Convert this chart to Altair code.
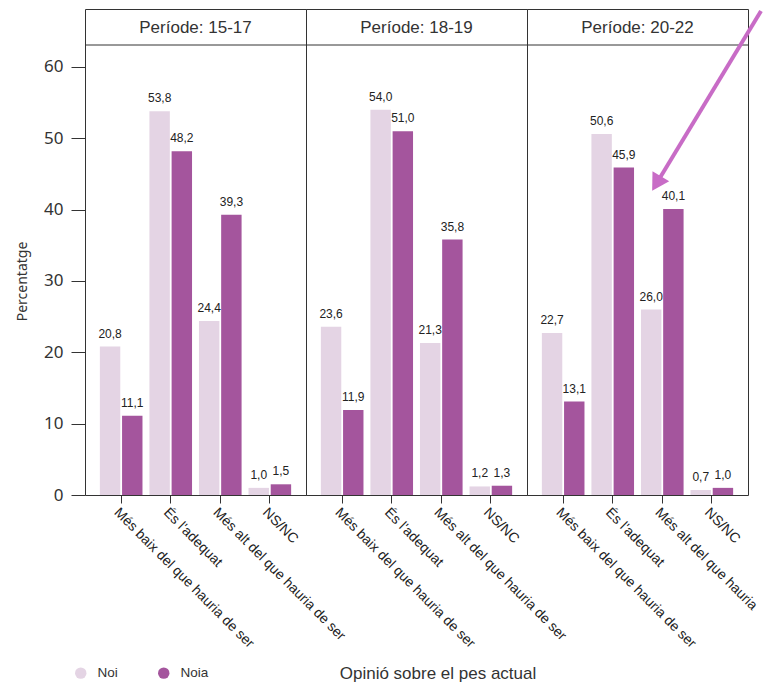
import altair as alt
import pandas as pd

periodes = ["15-17", "18-19", "20-22"]
opinions = ["Més baix del que hauria de ser", "És l'adequat",
            "Més alt del que hauria de ser", "NS/NC"]
sexes = ["Noi", "Noia"]
noi = {"15-17": [20.8, 53.8, 24.4, 1.0],
       "18-19": [23.6, 54.0, 21.3, 1.2],
       "20-22": [22.7, 50.6, 26.0, 0.7]}
noia = {"15-17": [11.1, 48.2, 39.3, 1.5],
        "18-19": [11.9, 51.0, 35.8, 1.3],
        "20-22": [13.1, 45.9, 40.1, 1.0]}
colors = ["#e4d4e4", "#a4559d"]
y_ticks = [0, 10, 20, 30, 40, 50, 60]
x_title = "Opinió sobre el pes actual"
y_title = "Percentatge"

rows = []
for p in periodes:
    for i, o in enumerate(opinions):
        for s, vals in (("Noi", noi), ("Noia", noia)):
            v = vals[p][i]
            rows.append(dict(periode=p, header="Període: " + p, opinio=o, sexe=s,
                             valor=v, etiqueta=f"{v:.1f}".replace(".", ",")))
df = pd.DataFrame(rows)

W, H = 221, 486
FONT = "Liberation Sans"
ARROW = "#c86cc6"


def panel(idx, p):
    last = idx == len(periodes) - 1
    label_expr = "datum.label"
    if last:
        # the browser window cuts this label in the original picture
        label_expr = ("datum.label === 'Més alt del que hauria de ser' ? "
                      "'Més alt del que hauria' : datum.label")
    xaxis = alt.Axis(title=x_title if idx == 1 else None,
                     labelAngle=45, labelAlign="left", labelBaseline="top",
                     labelFontSize=14, labelColor="#222", labelFont=FONT,
                     labelExpr=label_expr,
                     tickSize=8, tickColor="#333", labelPadding=2, domain=False,
                     labelLimit=400, titleFont=FONT, titleFontSize=17,
                     titleFontWeight="normal", titleColor="#333",
                     titleX=W / 2 + 21, titleY=178, titleBaseline="middle")
    x = alt.X("opinio:N", sort=opinions,
              scale=alt.Scale(paddingInner=0.14, paddingOuter=0.3), axis=xaxis)
    if idx == 0:
        yaxis = alt.Axis(title=y_title, values=y_ticks, domain=False, grid=False,
                         tickSize=14, tickColor="#333", labelFontSize=17,
                         labelFont="Noto Sans", labelColor="#333", labelPadding=8,
                         titleFontSize=14, titleFont="Noto Sans",
                         titleFontWeight="normal", titleColor="#333",
                         titlePadding=14, titleY=272)
    else:
        yaxis = None
    y = alt.Y("valor:Q", scale=alt.Scale(domain=[0, 68.13], nice=False), axis=yaxis)
    xoff = alt.XOffset("sexe:N", sort=sexes,
                       scale=alt.Scale(paddingInner=0.08, paddingOuter=0))
    color = alt.Color("sexe:N", sort=sexes, scale=alt.Scale(domain=sexes, range=colors),
                      legend=alt.Legend(title=None, orient="none", legendX=-11, legendY=657,
                                        direction="horizontal", symbolType="circle",
                                        symbolSize=130, symbolStrokeWidth=0,
                                        labelFontSize=13.5, labelFont=FONT,
                                        labelColor="#333", columnPadding=39,
                                        labelOffset=10))

    bars = alt.Chart().mark_bar().encode(x=x, y=y, xOffset=xoff, color=color)
    labels = alt.Chart().mark_text(baseline="bottom", dy=-6, fontSize=12, font=FONT,
                                   color="#222").encode(
        x=x, y=y, xOffset=xoff, text="etiqueta:N")

    one = (alt.datum.sexe == "Noi") & (alt.datum.opinio == "NS/NC")
    head_line = alt.Chart().mark_rule(color="#333", strokeWidth=1).encode(
        y=alt.value(36)).transform_filter(one)
    head_text = alt.Chart().mark_text(fontSize=17, font=FONT, color="#333",
                                      baseline="middle").encode(
        x=alt.value(W / 2), y=alt.value(18.5), text="header:N").transform_filter(one)
    layers = [bars, labels, head_line, head_text]
    if last:
        arrow_line = alt.Chart().mark_rule(color=ARROW, strokeWidth=4, clip=False).encode(
            x=alt.value(234), y=alt.value(2), x2=alt.value(131), y2=alt.value(172)
        ).transform_filter(one)
        arrow_head = alt.Chart().mark_point(shape="triangle-up", filled=True, color=ARROW,
                                            opacity=1, size=380, angle=211,
                                            clip=False).encode(
            x=alt.value(129.5), y=alt.value(174.5)
        ).transform_filter(one)
        layers += [arrow_line, arrow_head]
    return alt.layer(*layers, data=df).transform_filter(
        alt.datum.periode == p).properties(width=W, height=H)


chart = alt.hconcat(*[panel(i, p) for i, p in enumerate(periodes)],
                    spacing=0, bounds="flush").properties(
    padding={"left": 7, "top": 0, "right": 0, "bottom": 0}
).configure_view(stroke="#333", strokeWidth=1)

chart.save("out.html", embed_options={"renderer": "svg", "actions": False})
